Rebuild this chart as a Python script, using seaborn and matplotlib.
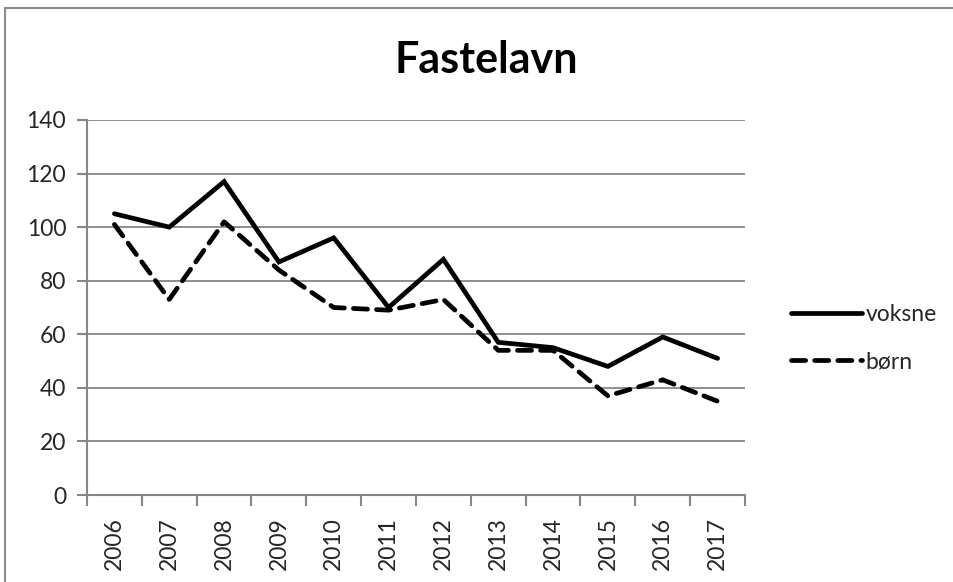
import matplotlib
matplotlib.use("Agg")
import matplotlib.pyplot as plt
import seaborn as sns
import pandas as pd
import numpy as np
from matplotlib.patches import Rectangle

years = ["2006", "2007", "2008", "2009", "2010", "2011", "2012", "2013", "2014", "2015", "2016", "2017"]
voksne = [105, 100, 117, 87, 96, 70, 88, 57, 55, 48, 59, 51]
born = [101, 73, 102, 84, 70, 69, 73, 54, 54, 37, 43, 35]
series_names = ["voksne", "børn"]
yticks = [0, 20, 40, 60, 80, 100, 120, 140]

sns.set_theme(style="white")
plt.rcParams['font.family'] = ['Lato', 'DejaVu Sans']

W, H = 954, 582
fig = plt.figure(figsize=(W / 100, H / 100), dpi=100)
fig.patch.set_facecolor("white")

# chart border (only left and top edges visible)
fig.add_artist(Rectangle((5 / W, -0.5), 2, 1.5 - 8 / H, transform=fig.transFigure,
                         fill=False, edgecolor="#8c8c8c", linewidth=1.5))

left, right, top, bottom = 87, 745, 120, 495
ax = fig.add_axes([left / W, 1 - bottom / H, (right - left) / W, (bottom - top) / H])

df = pd.DataFrame({
    "pos": list(range(len(years))) * 2,
    "value": voksne + born,
    "serie": [series_names[0]] * len(years) + [series_names[1]] * len(years),
})

sns.lineplot(data=df[df.serie == "voksne"], x="pos", y="value", ax=ax,
             color="black", linewidth=3.4, label="voksne",
             solid_capstyle="round", solid_joinstyle="miter")
sns.lineplot(data=df[df.serie == "børn"], x="pos", y="value", ax=ax,
             color="black", linewidth=3.4, label="børn",
             linestyle=(0, (3.0, 1.9)), dash_capstyle="round")

ax.set_xlim(-0.5, len(years) - 0.5)
ax.set_ylim(0, 140)
ax.set_yticks(yticks)
ax.set_yticklabels([str(v) for v in yticks], fontsize=16.5)
ax.set_xticks(range(len(years)))
ax.set_xticklabels(years, rotation=90, fontsize=16.5)
ax.set_xticks(np.arange(-0.5, len(years), 1.0), minor=True)
ax.tick_params(axis="x", which="major", length=0, pad=16)
ax.tick_params(axis="x", which="minor", length=8, width=1.5, color="#868686", direction="out", bottom=True)
ax.tick_params(axis="y", which="major", length=7, width=1.5, color="#868686", direction="out", pad=8, left=True)
ax.set_xlabel("")
ax.set_ylabel("")

ax.grid(axis="y", color="#868686", linewidth=1.3)
ax.grid(axis="x", visible=False)
ax.set_axisbelow(True)
for s in ["top", "right"]:
    ax.spines[s].set_visible(False)
for s in ["left", "bottom"]:
    ax.spines[s].set_color("#868686")
    ax.spines[s].set_linewidth(1.5)

fig.text(486 / W, 1 - 60 / H, "Fastelavn", ha="center", va="center",
         fontsize=31, fontweight="bold", color="black")

leg = ax.legend(loc="center left", bbox_to_anchor=(782 / W, 1 - 338 / H),
                bbox_transform=fig.transFigure, frameon=False, fontsize=16.5,
                handlelength=3.1, handletextpad=0.15, labelspacing=1.15, borderaxespad=0)

fig.savefig("out.png", dpi=100, facecolor="white")
